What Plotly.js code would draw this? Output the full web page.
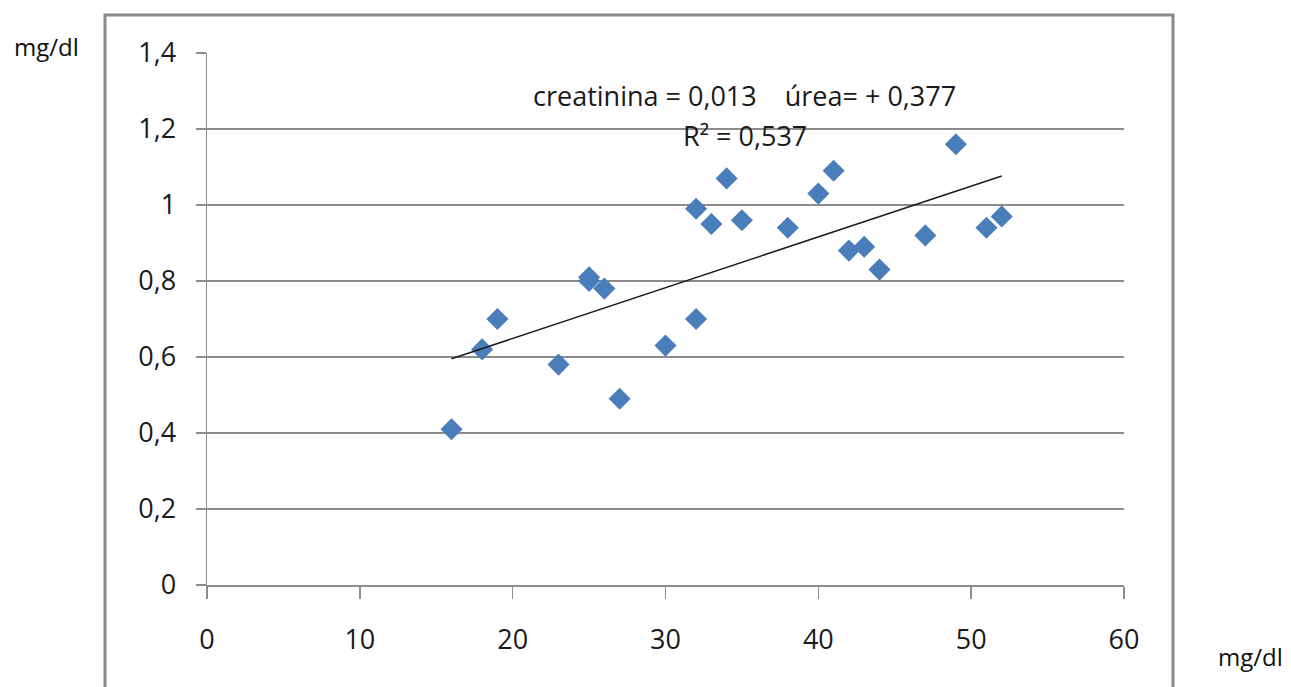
<!DOCTYPE html>
<html>
<head>
<meta charset="utf-8">
<script src="https://cdn.plot.ly/plotly-3.0.1.min.js"></script>
<style>
  html, body { margin: 0; padding: 0; background: #ffffff; }
  #chart { width: 1291px; height: 687px; }
</style>
</head>
<body>
<div id="chart"></div>
<script>
// ---- data ----
const urea = [16, 18, 19, 23, 25, 25, 26, 27, 30, 32, 32, 33, 34, 35, 38, 40, 41, 42, 43, 44, 47, 49, 51, 52];
const creatinina = [0.41, 0.62, 0.70, 0.58, 0.80, 0.81, 0.78, 0.49, 0.63, 0.70, 0.99, 0.95, 1.07, 0.96, 0.94, 1.03, 1.09, 0.88, 0.89, 0.83, 0.92, 1.16, 0.94, 0.97];
const xTickVals = [0, 10, 20, 30, 40, 50, 60];
const xTickText = ["0", "10", "20", "30", "40", "50", "60"];
const yTickVals = [0, 0.2, 0.4, 0.6, 0.8, 1, 1.2, 1.4];
const yTickText = ["0", "0,2", "0,4", "0,6", "0,8", "1", "1,2", "1,4"];
const equationText = "creatinina = 0,013\u00a0\u00a0\u00a0\u00a0úrea= + 0,377";
const r2Text = "R\u00b2 = 0,537";
const unitText = "mg/dl";

// ---- linear regression (trend line) from the data ----
const n = urea.length;
const mx = urea.reduce((a, b) => a + b, 0) / n;
const my = creatinina.reduce((a, b) => a + b, 0) / n;
let sxy = 0, sxx = 0;
for (let i = 0; i < n; i++) { sxy += (urea[i] - mx) * (creatinina[i] - my); sxx += (urea[i] - mx) ** 2; }
const slope = sxy / sxx;
const intercept = my - slope * mx;
const xMin = Math.min(...urea), xMax = Math.max(...urea);
const trendX = [xMin, xMax];
const trendY = trendX.map(v => intercept + slope * v);

// ---- layout geometry ----
const W = 1291, H = 687;
const L = 207, R = 1124, T = 53, B = 585;
const pw = R - L, ph = B - T;
const px = v => (v - L) / pw;
const py = v => (B - v) / ph;

const FONT = "Open Sans, Noto Sans, sans-serif";
const GRID = "#8c8c8c";
const TXT = "#1a1a1a";

const traces = [
  {
    x: urea, y: creatinina, type: "scatter", mode: "markers",
    marker: { symbol: "diamond", size: 17, color: "#4a7ebb", line: { width: 0 } },
    hoverinfo: "x+y", showlegend: false, cliponaxis: false
  },
  {
    x: trendX, y: trendY, type: "scatter", mode: "lines",
    line: { color: "#1a1a1a", width: 1.5 },
    hoverinfo: "skip", showlegend: false
  }
];

const layout = {
  width: W, height: H,
  margin: { l: L, r: W - R, t: T, b: H - B, pad: 0 },
  paper_bgcolor: "#ffffff", plot_bgcolor: "#ffffff",
  separators: ", ",
  showlegend: false,
  font: { family: FONT, size: 27, color: TXT },
  xaxis: {
    range: [0, 60], tickvals: xTickVals, ticktext: xTickText,
    showgrid: false, zeroline: false,
    showline: true, linecolor: GRID, linewidth: 1.5,
    ticks: "outside", ticklen: 12, tickcolor: GRID, tickwidth: 1.5,
    ticklabelstandoff: 18,
    tickfont: { family: FONT, size: 27, color: TXT },
    fixedrange: true
  },
  yaxis: {
    range: [0, 1.4], tickvals: yTickVals, ticktext: yTickText,
    showgrid: true, gridcolor: GRID, gridwidth: 1.5,
    zeroline: false,
    showline: true, linecolor: GRID, linewidth: 1.5,
    ticks: "outside", ticklen: 10, tickcolor: GRID, tickwidth: 1.5,
    ticklabelstandoff: 14,
    tickfont: { family: FONT, size: 27, color: TXT },
    fixedrange: true
  },
  shapes: [
    {
      type: "rect", xref: "paper", yref: "paper",
      x0: px(105), x1: px(1173), y0: py(700), y1: py(15),
      line: { color: "#8a8a8a", width: 3 }, fillcolor: "rgba(0,0,0,0)", layer: "below"
    }
  ],
  annotations: [
    {
      xref: "x", yref: "y", x: 35.2, y: 1.287, text: equationText, showarrow: false,
      font: { family: FONT, size: 27, color: TXT }, xanchor: "center", yanchor: "middle"
    },
    {
      xref: "x", yref: "y", x: 35.2, y: 1.184, text: r2Text, showarrow: false,
      font: { family: FONT, size: 27, color: TXT }, xanchor: "center", yanchor: "middle"
    },
    {
      xref: "paper", yref: "paper", x: px(46), y: py(46), text: unitText, showarrow: false,
      font: { family: FONT, size: 24, color: "#111111" }, xanchor: "center", yanchor: "middle"
    },
    {
      xref: "paper", yref: "paper", x: px(1250), y: py(656), text: unitText, showarrow: false,
      font: { family: FONT, size: 24, color: "#111111" }, xanchor: "center", yanchor: "middle"
    }
  ]
};

Plotly.newPlot("chart", traces, layout, { displayModeBar: false, staticPlot: true });
</script>
</body>
</html>
